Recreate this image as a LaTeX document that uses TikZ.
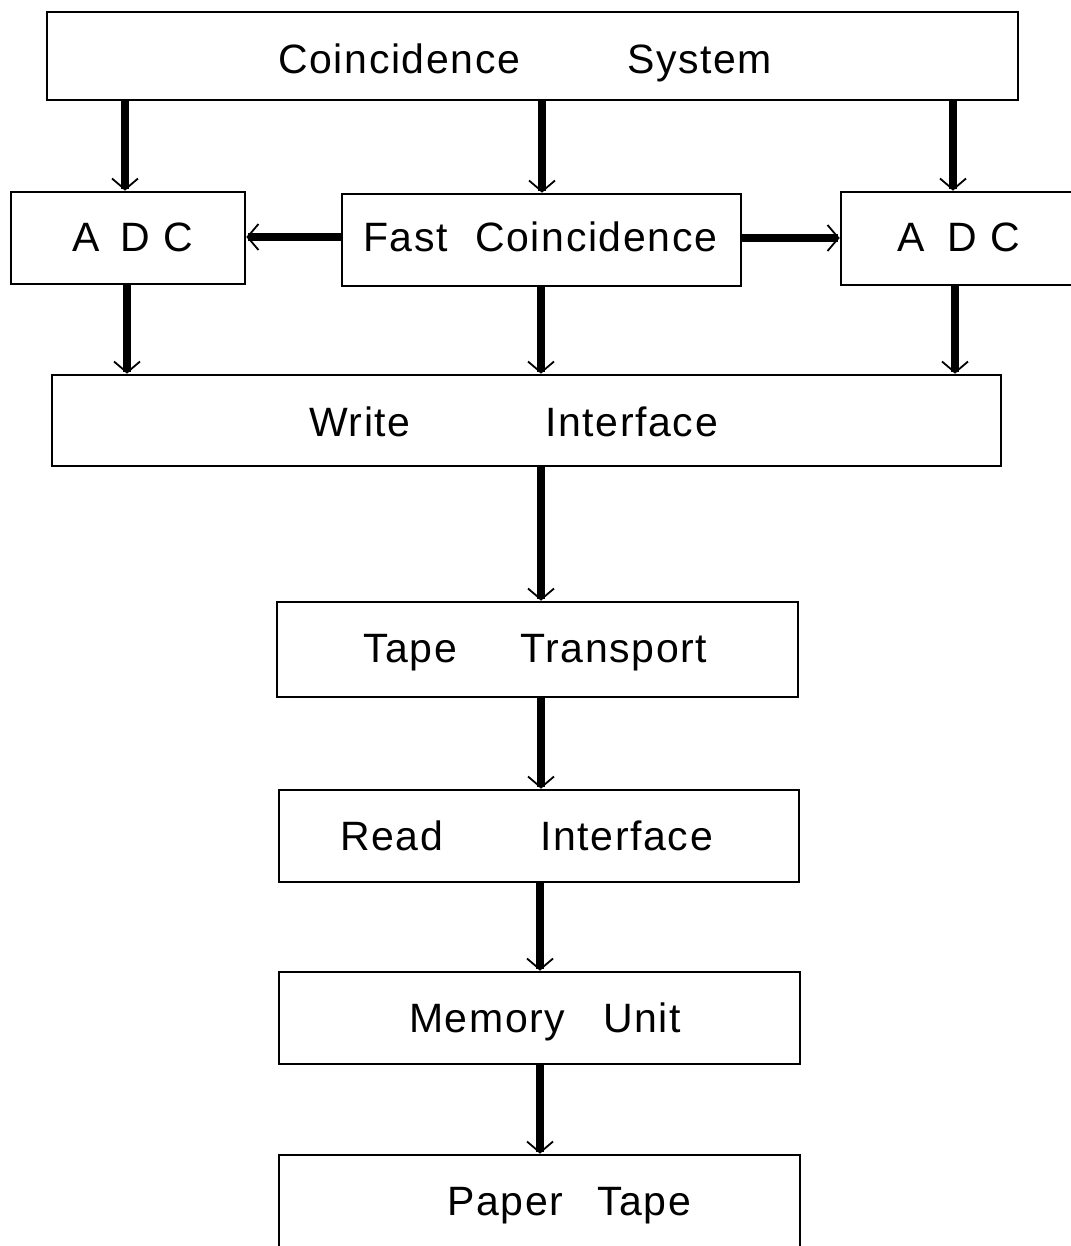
\documentclass[tikz,border=0pt]{standalone}
\usepackage{fontspec}
\setmainfont{Liberation Sans}[LetterSpace=4]
\usetikzlibrary{arrows.meta}
\begin{document}
\begin{tikzpicture}[x=1pt,y=-1pt,
  block/.style={draw, line width=2.6pt, inner sep=0pt},
  lbl/.style={anchor=base west, inner sep=0pt, font=\fontsize{41}{45}\selectfont},
  flow/.style={line width=7.5pt,
    -{Straight Barb[length=11pt,width=26pt,line width=1.8pt]}}]
\useasboundingbox (0,0) rectangle (1070,1246);
\fill[white] (0,0) rectangle (1070,1246);

% blocks
\node[block, minimum width=971pt, minimum height=88pt] (cs)   at (532.5,56) {};
\node[block, minimum width=234pt, minimum height=92pt] (adcL) at (128,238) {};
\node[block, minimum width=399pt, minimum height=92pt] (fc)   at (541.5,240) {};
\node[block, minimum width=249pt, minimum height=93pt] (adcR) at (965.5,238.5) {};
\node[block, minimum width=949pt, minimum height=91pt] (wi)   at (526.5,420.5) {};
\node[block, minimum width=521pt, minimum height=95pt] (tt)   at (537.5,649.5) {};
\node[block, minimum width=520pt, minimum height=92pt] (ri)   at (539,836) {};
\node[block, minimum width=521pt, minimum height=92pt] (mu)   at (539.5,1018) {};
\node[block, minimum width=521pt, minimum height=105pt] (pt)  at (539.5,1207.5) {};

% labels
\node[lbl] (tcs)   at (278,74)   {\makebox[349pt][l]{Coincidence}System};
\node[lbl] (tadcL) at (72,252)   {\makebox[48pt][l]{A}\makebox[43pt][l]{D}C};
\node[lbl] (tfc)   at (363,252)  {\makebox[112pt][l]{Fast}Coincidence};
\node[lbl] (tadcR) at (897,252)  {\makebox[50pt][l]{A}\makebox[43pt][l]{D}C};
\node[lbl] (twi)   at (309,436)  {\makebox[236pt][l]{Write}Interface};
\node[lbl] (ttt)   at (363,662)  {\makebox[157pt][l]{Tape}Transport};
\node[lbl] (tri)   at (340,850)  {\makebox[200pt][l]{Read}Interface};
\node[lbl] (tmu)   at (409,1032) {\makebox[194pt][l]{Memory}Unit};
\node[lbl] (tpt)   at (447,1215) {\makebox[150pt][l]{Paper}Tape};

% connectors
\coordinate (xl) at (125,0);
\coordinate (xm) at (542,0);
\coordinate (xr) at (953,0);
\coordinate (xl2) at (127,0);
\coordinate (xr2) at (955,0);
\draw[flow] (cs.south -| xl) -- (adcL.north -| xl);
\draw[flow] (cs.south -| xm) -- (fc.north -| xm);
\draw[flow] (cs.south -| xr) -- (adcR.north -| xr);
\draw[flow] (fc.west |- 0,237) -- (adcL.east |- 0,237);
\draw[flow] (fc.east |- 0,238) -- (adcR.west |- 0,238);
\draw[flow] (adcL.south -| xl2) -- (wi.north -| xl2);
\draw[flow] (fc.south -| 541,0) -- (wi.north -| 541,0);
\draw[flow] (adcR.south -| xr2) -- (wi.north -| xr2);
\draw[flow] (wi.south -| 541,0) -- (tt.north -| 541,0);
\draw[flow] (tt.south -| 541,0) -- (ri.north -| 541,0);
\draw[flow] (ri.south -| 540,0) -- (mu.north -| 540,0);
\draw[flow] (mu.south -| 540,0) -- (pt.north -| 540,0);
\end{tikzpicture}
\end{document}
